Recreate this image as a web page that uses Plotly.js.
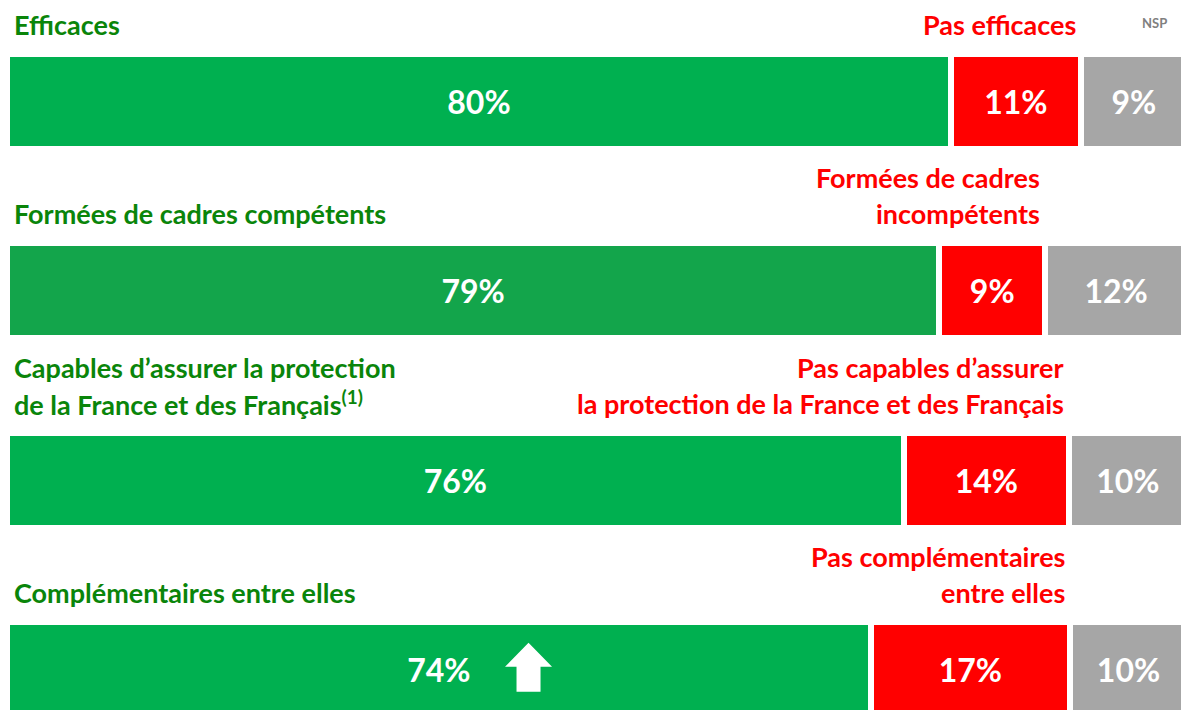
<!DOCTYPE html>
<html>
<head>
<meta charset="utf-8">
<script src="https://cdn.plot.ly/plotly-3.0.1.min.js"></script>
<style>
  html, body { margin: 0; padding: 0; background: #fff; }
  #chart { width: 1181px; height: 710px; }
</style>
</head>
<body>
<div id="chart"></div>
<script>
// libellés positifs (à gauche, en vert) = catégories
const categories = [
  "Efficaces",
  "Formées de cadres compétents",
  "Capables d’assurer la protection<br>de la France et des Français<sup>(1)</sup>",
  "Complémentaires entre elles"
];
// libellés négatifs (à droite, en rouge)
const negLabels = [
  "Pas efficaces",
  "Formées de cadres<br>incompétents",
  "Pas capables d’assurer<br>la protection de la France et des Français",
  "Pas complémentaires<br>entre elles"
];

// longueurs (la 4e barre est tracée un peu plus courte que son libellé)
const positive = [80, 79, 76, 73.2];
const negative = [11, 9, 14, 16.9];
const nsp      = [9, 12, 10, 9.9];

// textes affichés dans les barres
const positiveText = ["80%", "79%", "76%", "74%"];
const negativeText = ["11%", "9%", "14%", "17%"];
const nspText      = ["9%", "12%", "10%", "10%"];

const GREEN = "#00B050";
const GREEN_2 = "#13A54B";
const RED = "#FF0000";
const GREY = "#A6A6A6";
const FONT = "Lato, 'Open Sans', sans-serif";

const barText = { family: FONT, size: 32, color: "#fff", weight: "bold" };

function seg(values, text, color) {
  return {
    type: "bar",
    orientation: "h",
    y: categories,
    x: values,
    text: text,
    textposition: "inside",
    insidetextanchor: "middle",
    textangle: 0,
    constraintext: "none",
    textfont: barText,
    hoverinfo: "skip",
    marker: { color: color, line: { color: "#fff", width: 6 } },
  };
}

const traces = [
  seg(positive, positiveText, categories.map((c, i) => (i === 1 ? GREEN_2 : GREEN))),
  seg(negative, negativeText, RED),
  seg(nsp, nspText, GREY),
];

// libellés au-dessus de chaque barre, une annotation par ligne
const annotations = [];
function addLabel(label, i, x, anchor, color, xshift) {
  const lines = label.split("<br>");
  lines.forEach((ln, k) => {
    annotations.push({
      xref: "x", yref: "y",
      x: x, y: categories[i],
      xanchor: anchor, yanchor: "middle",
      xshift: xshift,
      yshift: 77 + 36 * (lines.length - 1 - k),
      text: ln,
      showarrow: false,
      font: { family: FONT, size: 27, color: color, weight: "bold" },
    });
  });
}
categories.forEach((c, i) => {
  addLabel(c, i, 0, "left", "#0A850A", 5);
  addLabel(negLabels[i], i, positive[i] + negative[i], "right", RED, -3);
});
annotations.push({
  xref: "paper", yref: "paper", x: 1 - 12 / 1174, y: 1 - 23 / 710,
  xanchor: "right", yanchor: "middle",
  text: "NSP", showarrow: false,
  font: { family: FONT, size: 13, color: "#808080", weight: "bold" },
});

// flèche de hausse à côté du 74%
const shapes = [{
  type: "path",
  xref: "x", yref: "y",
  xsizemode: "pixel", ysizemode: "pixel",
  xanchor: 44.2, yanchor: 3,
  path: "M -23.5,2.5 L 0,26.5 L 23.5,2.5 L 12,2.5 L 12,-22.5 L -12,-22.5 L -12,2.5 Z",
  fillcolor: "#fff",
  line: { width: 0 },
}];

const layout = {
  width: 1181,
  height: 710,
  margin: { l: 7, r: 0, t: 0, b: 0 },
  paper_bgcolor: "#fff",
  plot_bgcolor: "#fff",
  barmode: "stack",
  bargap: 0.498,
  showlegend: false,
  xaxis: { range: [0, 99.5], visible: false, fixedrange: true },
  yaxis: { type: "category", range: [3.215, -0.536], visible: false, fixedrange: true },
  annotations: annotations,
  shapes: shapes,
};

Plotly.newPlot("chart", traces, layout, { displayModeBar: false, staticPlot: true });
</script>
</body>
</html>
